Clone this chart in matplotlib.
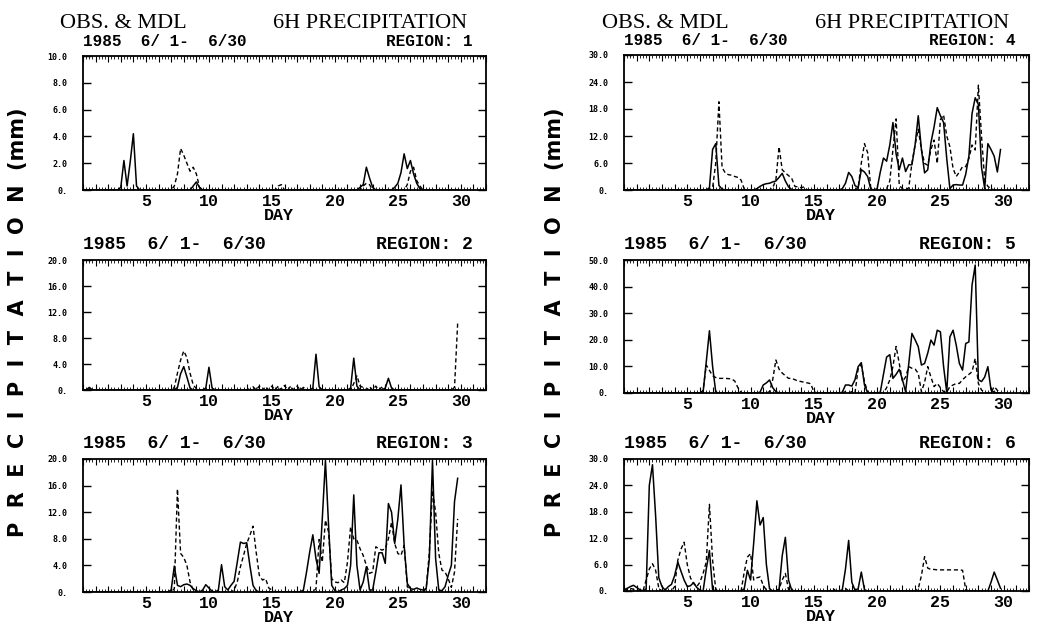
import numpy as np
import matplotlib.pyplot as plt
from matplotlib.ticker import MultipleLocator, FuncFormatter

# 6-hourly time axis in days, 6/1 00Z .. 6/30 18Z
t = np.arange(120) * 0.25

# ---- region 1 ----
r1_obs_t = [3.0, 3.25, 3.5, 3.75, 4.0, 4.25, 8.75, 9.0, 9.25,
            22.0, 22.25, 22.5, 22.75, 23.0,
            24.75, 25.0, 25.25, 25.5, 25.75, 26.0, 26.25, 26.5, 26.75]
r1_obs_v = [0.2, 2.2, 0.3, 2.1, 4.2, 0.3, 0.3, 0.6, 0.2,
            0.2, 0.4, 1.7, 0.9, 0.2,
            0.2, 0.5, 1.3, 2.7, 1.6, 2.2, 1.2, 0.5, 0.1]
r1_mdl_t = [7.25, 7.5, 7.75, 8.0, 8.25, 8.5, 8.75, 9.0, 9.25, 15.5, 15.75,
            22.25, 22.5, 22.75, 25.75, 26.0, 26.25, 26.5, 26.75]
r1_mdl_v = [0.3, 1.2, 3.1, 2.6, 2.0, 1.4, 1.7, 1.2, 0.2, 0.3, 0.4,
            0.3, 0.5, 0.4, 0.4, 1.4, 1.7, 0.7, 0.3]

# ---- region 2 ----
r2_obs_t = [0.5, 7.5, 7.75, 8.0, 8.25, 8.5, 9.75, 10.0, 10.25,
            18.25, 18.5, 18.75, 21.25, 21.5, 21.75, 24.0, 24.25, 24.5]
r2_obs_v = [0.4, 0.4, 2.5, 3.6, 2.0, 0.3, 0.3, 3.5, 0.3,
            0.3, 5.5, 0.5, 0.3, 4.9, 0.6, 0.3, 1.8, 0.3]
r2_mdl_t = [7.25, 7.5, 7.75, 8.0, 8.25, 8.5, 8.75, 9.0,
            13.0, 13.5, 14.0, 14.5, 15.0, 15.5, 16.0, 16.5, 17.0, 17.5,
            21.5, 21.75, 22.0, 22.25, 22.75, 23.25, 23.75, 29.5, 29.75]
r2_mdl_v = [0.4, 2.6, 4.6, 6.0, 5.0, 2.6, 0.8, 0.2,
            0.3, 0.5, 0.6, 0.5, 0.6, 0.6, 0.7, 0.6, 0.6, 0.4,
            1.0, 2.2, 0.6, 0.4, 0.5, 0.6, 0.5, 0.4, 10.3]

# ---- region 3 ----
r3_obs_t = [7.0, 7.25, 7.5, 7.75, 8.0, 8.25, 8.5, 8.75, 9.0, 9.5, 9.75, 10.0, 10.25,
            10.75, 11.0, 11.25, 11.5, 11.75, 12.0, 12.25, 12.5, 12.75, 13.0, 13.25, 13.5, 13.75,
            17.5, 17.75, 18.0, 18.25, 18.5, 18.75, 19.0, 19.25, 19.5, 19.75, 20.0,
            20.5, 20.75, 21.0, 21.25, 21.5, 21.75, 22.0, 22.25, 22.5, 22.75,
            23.0, 23.25, 23.5, 23.75, 24.0, 24.25, 24.5, 24.75, 25.0, 25.25, 25.5, 25.75,
            26.0, 26.25, 26.5, 26.75, 27.0, 27.25, 27.5, 27.75, 28.0, 28.25, 28.5, 28.75,
            29.0, 29.25, 29.5, 29.75]
r3_obs_v = [0.3, 3.9, 1.0, 0.8, 1.1, 1.2, 1.0, 0.5, 0.2, 0.3, 1.1, 0.6, 0.1,
            0.3, 4.1, 0.8, 0.3, 1.0, 1.6, 4.5, 7.5, 7.3, 7.4, 4.0, 1.0, 0.2,
            0.3, 3.0, 6.0, 8.6, 5.0, 2.8, 11.0, 19.8, 10.0, 1.0, 0.2,
            0.3, 0.5, 1.0, 4.0, 14.6, 4.0, 0.3, 1.5, 3.8, 0.3,
            0.3, 3.0, 5.9, 5.9, 4.3, 13.3, 12.0, 7.3, 11.0, 16.1, 7.0, 1.3,
            0.5, 0.4, 0.6, 0.4, 0.3, 0.5, 5.0, 19.8, 5.0, 0.3, 0.2, 0.8,
            2.5, 4.0, 13.6, 17.1]
r3_mdl_t = [7.25, 7.5, 7.75, 8.0, 8.25, 8.5, 8.75,
            12.0, 12.25, 12.5, 12.75, 13.0, 13.25, 13.5, 13.75, 14.0, 14.25, 14.5, 14.75, 15.0,
            18.5, 18.75, 19.0, 19.25, 19.5, 19.75, 20.0, 20.25, 20.5, 20.75,
            21.0, 21.25, 21.5, 21.75, 22.0, 22.25, 22.5, 22.75, 23.0, 23.25, 23.5, 23.75,
            24.0, 24.25, 24.5, 24.75, 25.0, 25.25, 25.5, 25.75, 26.0,
            27.25, 27.5, 27.75, 28.0, 28.25, 28.5, 28.75, 29.0, 29.25, 29.5, 29.75]
r3_mdl_v = [0.5, 15.5, 5.8, 5.2, 4.0, 1.5, 0.3,
            0.3, 1.5, 3.8, 5.5, 7.3, 8.5, 9.9, 6.0, 2.5, 1.8, 2.0, 0.6, 0.3,
            0.5, 7.9, 4.5, 10.8, 9.0, 2.0, 1.5, 1.4, 1.8, 1.4,
            4.5, 9.8, 8.0, 7.8, 6.5, 5.5, 4.0, 2.8, 3.0, 6.8, 6.5, 6.3,
            6.5, 8.0, 10.5, 7.3, 5.8, 5.5, 7.0, 0.8, 0.3,
            0.5, 6.0, 15.3, 12.0, 5.8, 3.3, 3.0, 2.0, 0.7, 3.0, 11.0]

# ---- region 4 ----
r4_obs_t = [6.75, 7.0, 7.25, 7.5, 7.75,
            10.5, 10.75, 11.0, 11.25, 11.5, 11.75, 12.0, 12.25, 12.5, 12.75, 13.0, 13.25,
            17.25, 17.5, 17.75, 18.0, 18.25, 18.5, 18.75, 19.0, 19.25, 19.5,
            20.0, 20.25, 20.5, 20.75, 21.0, 21.25, 21.5, 21.75, 22.0, 22.25, 22.5, 22.75,
            23.0, 23.25, 23.5, 23.75, 24.0, 24.25, 24.5, 24.75, 25.0, 25.25, 25.5, 25.75,
            26.0, 26.25, 26.5, 26.75, 27.0, 27.25, 27.5, 27.75, 28.0, 28.25, 28.5, 28.75,
            29.0, 29.25, 29.5, 29.75]
r4_obs_v = [0.5, 9.0, 10.3, 1.0, 0.2,
            0.3, 0.8, 1.2, 1.4, 1.5, 1.8, 2.0, 2.8, 3.7, 2.0, 0.7, 0.1,
            0.3, 1.5, 3.9, 3.0, 1.0, 0.5, 4.5, 4.0, 3.0, 0.2,
            0.3, 4.0, 7.1, 6.4, 10.0, 15.0, 8.0, 4.5, 7.1, 4.1, 5.6, 5.6,
            10.0, 16.5, 9.0, 3.8, 4.5, 10.5, 14.0, 18.3, 16.5, 15.0, 7.0, 0.3,
            1.1, 1.2, 1.1, 1.1, 3.5, 7.5, 17.0, 20.5, 19.0, 5.0, 0.3, 10.3,
            9.0, 7.5, 4.0, 9.0]
r4_mdl_t = [7.0, 7.25, 7.5, 7.75, 8.0, 8.25, 8.5, 8.75, 9.0, 9.25, 9.5,
            11.75, 12.0, 12.25, 12.5, 12.75, 13.0, 13.25, 13.5, 13.75, 14.0, 14.25,
            18.5, 18.75, 19.0, 19.25, 19.5,
            20.75, 21.0, 21.25, 21.5, 21.75, 22.0,
            22.5, 22.75, 23.0, 23.25, 23.5, 23.75, 24.0, 24.25, 24.5, 24.75, 25.0, 25.25,
            25.5, 25.75, 26.0, 26.25, 26.5, 26.75, 27.0, 27.25, 27.5, 27.75, 28.0, 28.25,
            28.5, 28.75, 29.0]
r4_mdl_v = [0.5, 6.0, 19.6, 5.0, 3.8, 3.4, 3.3, 3.0, 2.8, 2.2, 0.2,
            0.5, 2.2, 9.6, 4.5, 3.8, 3.2, 2.6, 0.8, 0.7, 0.5, 0.7,
            0.5, 6.0, 10.3, 8.3, 0.3,
            0.3, 2.0, 9.0, 15.8, 1.0, 0.3,
            0.5, 6.0, 10.0, 13.5, 9.0, 5.9, 5.5, 9.0, 11.1, 5.9, 15.6, 16.7,
            12.0, 9.6, 4.8, 3.0, 4.0, 5.2, 5.2, 7.0, 10.0, 8.9, 23.3, 11.9,
            2.2, 0.8, 0.3]

# ---- region 5 ----
r5_obs_t = [6.25, 6.5, 6.75, 7.0, 7.25,
            10.75, 11.0, 11.25, 11.5, 11.75, 12.0,
            17.25, 17.5, 17.75, 18.0, 18.25, 18.5, 18.75, 19.0, 19.25,
            20.25, 20.5, 20.75, 21.0, 21.25, 21.5, 21.75, 22.0, 22.25, 22.5, 22.75,
            23.0, 23.25, 23.5, 23.75, 24.0, 24.25, 24.5, 24.75, 25.0, 25.25, 25.5, 25.75,
            26.0, 26.25, 26.5, 26.75, 27.0, 27.25, 27.5, 27.75, 28.0, 28.25, 28.5, 28.75,
            29.0, 29.25]
r5_obs_v = [0.3, 11.7, 23.4, 10.0, 0.3,
            0.3, 3.0, 3.8, 4.9, 2.0, 0.5,
            0.3, 3.0, 3.0, 2.6, 5.0, 9.9, 11.4, 3.0, 0.2,
            0.3, 7.0, 13.5, 14.4, 5.5, 7.0, 8.9, 5.0, 0.5, 11.0, 22.4,
            20.0, 17.4, 10.5, 11.1, 15.0, 19.9, 18.0, 23.6, 23.0, 10.0, 0.3, 21.1,
            23.6, 18.0, 11.1, 8.6, 18.6, 19.2, 40.6, 48.1, 5.0, 4.3, 6.0, 9.9,
            1.1, 0.3]
r5_mdl_t = [6.25, 6.5, 6.75, 7.0, 7.25, 7.5, 7.75, 8.0, 8.25, 8.5, 8.75, 9.0, 9.25,
            11.5, 11.75, 12.0, 12.25, 12.5, 12.75, 13.0, 13.25, 13.5, 13.75, 14.0, 14.25,
            14.5, 14.75, 15.0,
            17.5, 18.0, 18.5, 18.75, 19.0, 19.25,
            20.75, 21.0, 21.25, 21.5, 21.75, 22.0, 22.25, 22.5, 22.75, 23.0, 23.25, 23.5,
            23.75, 24.0, 24.25, 24.5, 24.75, 25.0, 25.25, 25.5, 25.75, 26.0, 26.25, 26.5,
            26.75, 27.0, 27.25, 27.5, 27.75, 28.0, 28.25, 28.5, 29.0, 29.25, 29.5]
r5_mdl_v = [1.0, 10.5, 8.5, 6.5, 5.8, 5.5, 5.5, 5.5, 5.4, 5.3, 4.5, 2.0, 0.2,
            0.5, 5.0, 12.4, 9.0, 7.5, 6.5, 5.5, 5.5, 5.0, 4.5, 4.3, 4.0,
            3.8, 3.5, 0.5,
            0.5, 0.5, 9.0, 10.5, 4.3, 0.3,
            2.0, 4.9, 10.0, 17.5, 11.1, 4.3, 6.0, 9.9, 9.3, 9.0, 7.4, 0.5,
            4.0, 9.9, 6.0, 2.4, 3.6, 2.0, 0.5, 0.3, 2.4, 3.0, 3.6, 3.6,
            5.0, 6.1, 7.0, 8.0, 13.0, 3.6, 1.1, 0.3, 0.3, 2.4, 1.0]

# ---- region 6 ----
r6_obs_t = [0.0, 0.25, 0.5, 0.75, 1.0, 1.25,
            1.75, 2.0, 2.25, 2.5, 2.75, 3.0, 3.25,
            3.5, 3.75, 4.0, 4.25, 4.5, 4.75, 5.0, 5.25, 5.5, 5.75, 6.0,
            6.5, 6.75, 7.0,
            9.5, 9.75, 10.0, 10.25, 10.5, 10.75, 11.0, 11.25, 11.5,
            12.25, 12.5, 12.75, 13.0, 13.25,
            17.25, 17.5, 17.75, 18.0, 18.25, 18.5, 18.75, 19.0,
            29.0, 29.25, 29.5, 29.75]
r6_obs_v = [0.3, 0.6, 1.0, 1.3, 0.8, 0.3,
            0.5, 24.0, 28.7, 17.0, 3.0, 1.0, 0.2,
            1.0, 1.5, 3.5, 6.6, 4.5, 2.5, 1.0, 1.2, 1.9, 0.8, 0.2,
            5.0, 9.2, 0.3,
            0.5, 4.7, 2.5, 11.0, 20.5, 15.0, 16.7, 6.0, 0.5,
            0.3, 8.0, 12.2, 2.5, 0.2,
            0.3, 5.0, 11.5, 2.0, 0.2, 0.5, 4.3, 0.3,
            2.0, 4.3, 2.5, 0.6]
r6_mdl_t = [0.25, 0.5, 0.75,
            1.75, 2.0, 2.25, 2.5, 2.75,
            4.0, 4.25, 4.5, 4.75, 5.0, 5.25, 5.5, 5.75, 6.0, 6.25, 6.5, 6.75, 7.0, 7.25,
            9.5, 9.75, 10.0, 10.25, 10.5, 10.75, 11.0, 11.25,
            12.25, 12.5, 12.75, 13.0, 16.5, 17.5,
            23.25, 23.5, 23.75, 24.0, 24.25, 24.5, 24.75, 25.0, 25.25, 25.5, 25.75,
            26.0, 26.25, 26.5, 26.75, 27.0]
r6_mdl_v = [0.3, 0.6, 0.4,
            2.5, 5.0, 6.2, 4.7, 0.6,
            1.0, 7.0, 9.5, 11.1, 6.0, 3.0, 1.7, 1.0, 2.0, 4.0, 6.6, 19.7, 7.0, 0.3,
            4.3, 7.7, 8.5, 2.5, 3.0, 3.2, 1.3, 0.2,
            0.5, 2.5, 4.0, 0.3, 0.6, 0.6,
            0.5, 3.5, 7.8, 5.2, 4.9, 4.9, 4.8, 4.8, 4.8, 4.8, 4.8,
            4.8, 4.8, 4.8, 4.7, 0.3]

regions = [1, 2, 3, 4, 5, 6]
y_max = [10, 20, 20, 30, 50, 30]
y_step = [2, 4, 4, 6, 10, 6]

W, H = 1037, 625


def series(times, vals):
    s = np.zeros(len(t))
    s[np.round(np.array(times) * 4).astype(int)] = vals
    return s


def px_rect(left, top, right, bottom):
    return [left / W, 1 - bottom / H, (right - left) / W, (bottom - top) / H]


obs = [series(r1_obs_t, r1_obs_v), series(r2_obs_t, r2_obs_v), series(r3_obs_t, r3_obs_v),
       series(r4_obs_t, r4_obs_v), series(r5_obs_t, r5_obs_v), series(r6_obs_t, r6_obs_v)]
mdl = [series(r1_mdl_t, r1_mdl_v), series(r2_mdl_t, r2_mdl_v), series(r3_mdl_t, r3_mdl_v),
       series(r4_mdl_t, r4_mdl_v), series(r5_mdl_t, r5_mdl_v), series(r6_mdl_t, r6_mdl_v)]

# panel boxes in pixels: left, top, right, bottom
boxes = [(83, 56, 486, 190), (83, 260, 486, 390), (83, 459, 486, 592),
         (624, 55, 1029, 190), (624, 260, 1029, 393), (624, 459, 1029, 591)]

mono = 'Liberation Mono'
fig = plt.figure(figsize=(W / 100, H / 100), dpi=100)

for k in range(6):
    l, tp, r, b = boxes[k]
    ax = fig.add_axes(px_rect(l, tp, r, b))
    ax.plot(t, obs[k], color='black', lw=1.1)
    ax.plot(t, mdl[k], color='black', lw=1.0, ls=(0, (3, 2)))
    ax.set_xlim(0, 32)
    ax.set_ylim(0, y_max[k])
    for sp in ax.spines.values():
        sp.set_linewidth(1.3)

    ax.xaxis.set_major_locator(MultipleLocator(1))
    ax.xaxis.set_minor_locator(MultipleLocator(0.25))
    ax.xaxis.set_major_formatter(FuncFormatter(
        lambda v, p: '%d' % round(v) if round(v) % 5 == 0 and 0 < v <= 30 else ''))
    ax.yaxis.set_major_locator(MultipleLocator(y_step[k]))
    ax.yaxis.set_major_formatter(FuncFormatter(lambda v, p: '0.' if v == 0 else '%.1f' % v))

    ax.tick_params(axis='x', which='both', direction='in', top=True, bottom=True)
    ax.tick_params(axis='x', which='major', length=4.5, width=0.8, pad=3,
                   labelsize=12, labelfontfamily=mono)
    ax.tick_params(axis='x', which='minor', length=2.5, width=0.6)
    ax.tick_params(axis='y', direction='in', left=True, right=True, length=6, width=1.0,
                   pad=11, labelsize=6, labelfontfamily='DejaVu Sans Mono')
    plt.setp(ax.get_xticklabels(), fontweight='bold')
    plt.setp(ax.get_yticklabels(), fontweight='bold')

    # sub title and region (top row is squeezed under the main title)
    top_row = k in (0, 3)
    fs = 11.5 if top_row else 13
    base = tp - 10 if top_row else tp - 11
    fig.text(l / W, 1 - base / H, '1985  6/ 1-  6/30', family=mono,
             weight='bold', fontsize=fs, va='baseline', ha='left')
    fig.text((r - 13) / W, 1 - base / H, 'REGION: %d' % regions[k], family=mono,
             weight='bold', fontsize=fs, va='baseline', ha='right')
    fig.text((l + 0.485 * (r - l)) / W, 1 - (b + 30) / H, 'DAY', family=mono,
             weight='bold', fontsize=12, va='baseline', ha='center')

# main titles
for x0 in (60, 602):
    fig.text(x0 / W, 1 - 27.5 / H, 'OBS. & MDL', family='Liberation Serif',
             fontsize=16, va='baseline', ha='left')
    fig.text((x0 + 213) / W, 1 - 27.5 / H, '6H PRECIPITATION', family='Liberation Serif',
             fontsize=16, va='baseline', ha='left')

# y labels
ylab = 'P  R  E  C  I  P  I  T  A  T  I  O  N  (mm)'
for xl in (18, 555):
    fig.text(xl / W, 1 - 322 / H, ylab, rotation=90, family='DejaVu Sans',
             weight='bold', fontsize=15, ha='center', va='center')

fig.savefig('out.png', dpi=100)
